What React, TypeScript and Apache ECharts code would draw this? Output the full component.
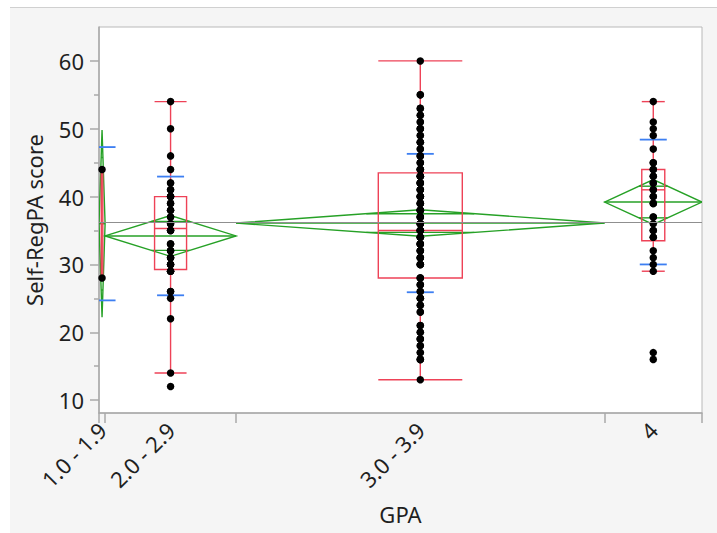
import React, { useEffect, useRef } from "react";
import * as echarts from "echarts";

// ---- data ----
const categories = ["1.0 - 1.9", "2.0 - 2.9", "3.0 - 3.9", "4"];

const scores1 = [44, 28];
const scores2 = [
  54, 50, 46, 44, 42, 42, 41, 41, 40, 40, 40, 39, 39, 38, 38, 37, 37, 36, 36, 35, 35, 35,
  33, 33, 33, 32, 32, 32, 31, 31, 31, 30, 30, 30, 29, 29, 29, 26, 26, 25, 22, 14, 12,
];
const scores3 = [
  60, 55, 55, 53, 53, 52, 52, 51, 51, 50, 50, 50, 49, 49, 48, 48, 48, 47, 47, 46, 46, 46,
  45, 45, 45, 44, 44, 44, 44,
  43, 43, 43, 43, 42, 42, 42, 42, 42, 41, 41, 41, 41, 40, 40, 40, 40, 40, 39, 39, 39, 39,
  38, 38, 38, 38, 38, 37, 37, 37, 37, 36, 36, 36, 36, 36, 35, 35, 35, 35, 35, 34, 34, 34, 34,
  33, 33, 33, 33, 33, 32, 32, 32, 32, 31, 31, 31, 31, 30, 30, 30, 30,
  28, 28, 28, 27, 27, 27, 26, 26, 25, 25, 25, 24, 24, 23, 23, 21, 21, 20, 20, 19, 19, 19,
  18, 18, 17, 17, 16, 16, 16, 13,
];
const scores4 = [
  54, 51, 50, 49, 47, 45, 45, 44, 44, 43, 43, 42, 42, 41, 41, 40, 40, 39, 39, 37, 37, 36,
  35, 35, 34, 34, 32, 31, 30, 29, 17, 16,
];

const groupMeans = [36, 34.2, 36.1, 39.2];
const meanCI95 = [13.8, 3.0, 1.95, 3.3];
const stdDevs = [11.3, 8.75, 10.2, 9.2];
const whiskerLow = [28, 14, 13, 29];
const quartile1 = [28, 29.25, 28, 33.5];
const medians = [36, 35.3, 35, 41];
const quartile3 = [44, 40, 43.5, 44];
const whiskerHigh = [44, 54, 60, 54];
const grandMean = 36.15;

const yTickValues = [10, 20, 30, 40, 50, 60];
const yMinorTickValues = [15, 25, 35, 45, 55];

// ---- styling constants ----
const RED = "#ee4257";
const GREEN = "#26a126";
const BLUE = "#3d7ff2";
const AXIS = "#a8a8a8";
const TEXT = "#1f1f1f";
const FONT = "Noto Sans";
const FS = 22;
const boxWidthPx = [1.5, 32, 84, 23];
const sdHalfPx = 13.5;

const groups = [scores1, scores2, scores3, scores4];

export default function App() {
  const ref = useRef<HTMLDivElement>(null);

  useEffect(() => {
    if (!ref.current) return;
    const chart = echarts.init(ref.current, null, { renderer: "svg" });

    const starts: number[] = [];
    const ends: number[] = [];
    let acc = 0;
    groups.forEach((g) => {
      starts.push(acc);
      acc += g.length;
      ends.push(acc);
    });
    const total = acc;
    const centers = starts.map((s, i) => (s + ends[i]) / 2);
    const boundaries = [0, ...ends];

    const points: number[][] = [];
    groups.forEach((g, i) => g.forEach((v) => points.push([centers[i], v])));

    const summary = groups.map((_, i) => [starts[i], ends[i]]);

    const renderItem = (params: any, api: any) => {
      const i = params.dataIndex;
      const s = api.value(0);
      const e = api.value(1);
      const c = (s + e) / 2;
      const xs = api.coord([s, 0])[0];
      const xe = api.coord([e, 0])[0];
      const xc = api.coord([c, 0])[0];
      const y = (v: number) => api.coord([c, v])[1];
      const m = groupMeans[i];
      const ci = meanCI95[i];
      const ym = y(m);
      const yt = y(m + ci);
      const yb = y(m - ci);
      const k = Math.SQRT1_2;
      const half = (xe - xs) / 2;
      const ow = half * (1 - k);
      const yot = y(m + ci * k);
      const yob = y(m - ci * k);
      const bw = boxWidthPx[i] / 2;
      const greenStyle = { stroke: GREEN, lineWidth: 1.4, fill: null };
      const redStyle = { stroke: RED, lineWidth: 1.4, fill: null };
      const blueStyle = { stroke: BLUE, lineWidth: 1.8 };
      const line = (x1: number, y1: number, x2: number, y2: number, style: any) => ({
        type: "line",
        shape: { x1, y1, x2, y2 },
        style,
      });
      const children: any[] = [
        {
          type: "polygon",
          shape: { points: [[xs, ym], [xc, yt], [xe, ym], [xc, yb]] },
          style: greenStyle,
        },
        line(xs, ym, xe, ym, greenStyle),
        line(xc - ow, yot, xc + ow, yot, greenStyle),
        line(xc - ow, yob, xc + ow, yob, greenStyle),
        {
          type: "rect",
          shape: { x: xc - bw, y: y(quartile3[i]), width: bw * 2, height: y(quartile1[i]) - y(quartile3[i]) },
          style: redStyle,
        },
        line(xc - bw, y(medians[i]), xc + bw, y(medians[i]), redStyle),
        line(xc, y(quartile3[i]), xc, y(whiskerHigh[i]), redStyle),
        line(xc, y(quartile1[i]), xc, y(whiskerLow[i]), redStyle),
        line(xc - bw, y(whiskerHigh[i]), xc + bw, y(whiskerHigh[i]), redStyle),
        line(xc - bw, y(whiskerLow[i]), xc + bw, y(whiskerLow[i]), redStyle),
        line(xc - sdHalfPx, y(m + stdDevs[i]), xc + sdHalfPx, y(m + stdDevs[i]), blueStyle),
        line(xc - sdHalfPx, y(m - stdDevs[i]), xc + sdHalfPx, y(m - stdDevs[i]), blueStyle),
      ];
      return { type: "group", children };
    };

    const nearestCat = (v: number) => {
      let best = 0;
      centers.forEach((c, i) => {
        if (Math.abs(c - v) < Math.abs(centers[best] - v)) best = i;
      });
      return categories[best];
    };

    chart.setOption({
      animation: false,
      backgroundColor: "transparent",
      textStyle: { fontFamily: FONT },
      grid: {
        left: 89,
        top: 19,
        width: 603,
        height: 386,
        show: true,
        backgroundColor: "#ffffff",
        borderColor: "#b9b9b9",
        borderWidth: 1,
      },
      xAxis: {
        type: "value",
        min: 0,
        max: total,
        name: "GPA",
        nameLocation: "middle",
        nameGap: 90,
        nameTextStyle: { fontSize: FS, color: TEXT, fontFamily: FONT },
        axisLine: { show: true, lineStyle: { color: AXIS, width: 1.5 } },
        axisTick: { show: true, customValues: boundaries, length: 10, lineStyle: { color: AXIS, width: 1.5 } },
        axisLabel: {
          customValues: centers,
          rotate: 45,
          margin: 13,
          fontSize: FS,
          color: TEXT,
          fontFamily: FONT,
          formatter: (v: number) => nearestCat(v),
        },
        splitLine: { show: false },
      },
      yAxis: [
        {
          type: "value",
          min: 8.1,
          max: 65,
          name: "Self-RegPA score",
          nameLocation: "middle",
          nameGap: 54,
          nameTextStyle: { fontSize: FS, color: TEXT, fontFamily: FONT },
          axisLine: { show: true, lineStyle: { color: AXIS, width: 1.5 } },
          axisTick: { show: true, customValues: yTickValues, length: 9, lineStyle: { color: AXIS, width: 1.5 } },
          axisLabel: { customValues: yTickValues, fontSize: FS, color: TEXT, fontFamily: FONT, margin: 15 },
          splitLine: { show: false },
        },
        {
          type: "value",
          min: 8.1,
          max: 65,
          position: "left",
          axisLine: { show: false },
          axisTick: { show: true, customValues: yMinorTickValues, length: 5, lineStyle: { color: AXIS, width: 1.5 } },
          axisLabel: { show: false },
          splitLine: { show: false },
        },
      ],
      series: [
        {
          type: "custom",
          clip: true,
          renderItem,
          data: summary,
          encode: { x: [0, 1] },
          z: 2,
          silent: true,
          markLine: {
            silent: true,
            symbol: "none",
            label: { show: false },
            lineStyle: { color: "#8f8f8f", width: 1.2, type: "solid" },
            data: [{ yAxis: grandMean }],
          },
        },
        {
          type: "scatter",
          data: points,
          symbolSize: 7.5,
          itemStyle: { color: "#000000", opacity: 1 },
          z: 3,
          silent: true,
        },
      ],
    });

    return () => chart.dispose();
  }, []);

  return (
    <div style={{ position: "absolute", left: 0, top: 0, width: 717, height: 533, background: "#ffffff", overflow: "hidden" }}>
      <div style={{ position: "absolute", left: 10, top: 7, width: 707, height: 1, background: "#d0d0d0" }} />
      <div style={{ position: "absolute", left: 10, top: 8, width: 707, height: 525, background: "#f5f5f5" }} />
      <div ref={ref} style={{ position: "absolute", left: 10, top: 8, width: 707, height: 525 }} />
    </div>
  );
}
